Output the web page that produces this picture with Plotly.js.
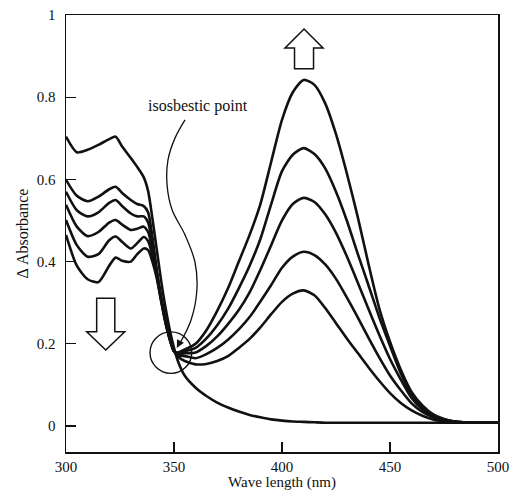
<!DOCTYPE html>
<html>
<head>
<meta charset="utf-8">
<script src="https://cdn.plot.ly/plotly-3.0.1.min.js"></script>
<style>html,body{margin:0;padding:0;background:#fff;}#chart{width:513px;height:491px;}</style>
</head>
<body>
<div id="chart"></div>
<script>
// Wavelength (nm)
const wavelength = [300,305,310,315,320,323,326,330,333,336,338,340,342,344,346,348,350,352,355,360,365,370,375,380,385,390,395,400,405,410,415,420,425,430,435,440,445,450,455,460,465,470,475,480,490,500];

// Initial spectrum (no 410 nm band)
const spectrum0 = [0.704,0.666,0.672,0.684,0.698,0.704,0.680,0.652,0.630,0.605,0.572,0.505,
  0.430,0.355,0.290,0.235,0.190,0.155,
  0.122,0.093,0.073,0.057,0.045,0.035,0.027,0.021,0.016,0.013,0.011,0.010,0.009,0.008,0.008,0.008,0.008,0.008,0.008,0.008,0.008,0.008,0.008,0.008,0.008,0.008,
  0.008,0.008];

const spectrum1 = [0.599,0.560,0.547,0.558,0.576,0.582,0.567,0.550,0.540,0.535,0.520,0.460,
  0.380,0.315,0.260,0.215,0.182,0.168,
  0.158,0.150,0.151,0.158,0.170,0.190,0.212,0.240,0.272,0.302,0.322,0.330,0.318,0.287,0.250,0.213,0.178,0.143,0.110,0.080,0.056,0.038,0.025,0.016,0.011,0.009,
  0.008,0.008];

const spectrum2 = [0.570,0.525,0.510,0.520,0.543,0.550,0.535,0.517,0.510,0.510,0.495,0.445,
  0.375,0.312,0.258,0.214,0.182,0.172,
  0.170,0.165,0.175,0.190,0.210,0.235,0.265,0.303,0.343,0.385,0.412,0.424,0.416,0.393,0.358,0.313,0.265,0.215,0.167,0.123,0.087,0.055,0.034,0.021,0.013,0.010,
  0.008,0.008];

const spectrum3 = [0.538,0.485,0.462,0.472,0.495,0.501,0.490,0.477,0.480,0.485,0.472,0.430,
  0.370,0.310,0.256,0.213,0.182,0.175,
  0.177,0.179,0.195,0.218,0.248,0.282,0.325,0.380,0.440,0.500,0.540,0.555,0.545,0.515,0.470,0.413,0.350,0.285,0.222,0.163,0.113,0.068,0.040,0.024,0.015,0.010,
  0.008,0.008];

const spectrum4 = [0.501,0.440,0.412,0.418,0.452,0.461,0.448,0.432,0.445,0.460,0.450,0.415,
  0.365,0.307,0.254,0.212,0.182,0.177,
  0.182,0.190,0.213,0.245,0.285,0.335,0.390,0.455,0.540,0.620,0.660,0.676,0.662,0.627,0.570,0.500,0.420,0.343,0.265,0.195,0.128,0.077,0.045,0.026,0.016,0.011,
  0.008,0.008];

const spectrum5 = [0.465,0.390,0.357,0.350,0.390,0.410,0.402,0.400,0.418,0.432,0.428,0.400,
  0.360,0.305,0.252,0.211,0.182,0.179,
  0.186,0.200,0.233,0.280,0.335,0.400,0.465,0.540,0.643,0.745,0.812,0.842,0.830,0.785,0.710,0.615,0.510,0.395,0.287,0.205,0.137,0.083,0.050,0.028,0.017,0.011,
  0.008,0.008];

const spectra = [spectrum0, spectrum1, spectrum2, spectrum3, spectrum4, spectrum5];

// Leader line from the "isosbestic point" label to the circle
const leaderX = [355.1,350.5,347.2,346.8,349.1,355.1,359.7,360.6,357.9,352.8];
const leaderY = [0.745,0.701,0.647,0.586,0.526,0.465,0.399,0.331,0.258,0.202];

const yTicks = [0,0.2,0.4,0.6,0.8,1];
const yTickText = ['0','0.2','0.4','0.6','0.8','1'];
const xTicks = [300,350,400,450,500];

const traces = spectra.map(s => ({
  x: wavelength, y: s, type: 'scatter', mode: 'lines',
  line: {color: '#111', width: 2.6, shape: 'spline', smoothing: 0.7},
  hoverinfo: 'skip', showlegend: false
}));
traces.push({
  x: leaderX, y: leaderY, type: 'scatter', mode: 'lines',
  line: {color: '#111', width: 1.3, shape: 'spline', smoothing: 1},
  hoverinfo: 'skip', showlegend: false
});

const serif = 'Liberation Serif, Times New Roman, serif';

const layout = {
  width: 513, height: 491,
  margin: {l: 66, r: 15, t: 15, b: 39},
  paper_bgcolor: '#fff', plot_bgcolor: '#fff',
  font: {family: serif, color: '#111', size: 15},
  xaxis: {
    range: [300, 500], tickvals: xTicks, ticks: 'inside', ticklen: 10, tickwidth: 1.3,
    tickcolor: '#111', showline: true, linecolor: '#111', linewidth: 1.5, mirror: true,
    showgrid: false, zeroline: false, tickfont: {size: 15, family: serif},
    title: {text: 'Wave length (nm)', font: {size: 15, family: serif}, standoff: 6}
  },
  yaxis: {
    range: [-0.0633, 1.0], tickvals: yTicks, ticktext: yTickText, ticks: 'inside', ticklen: 10, tickwidth: 1.3,
    tickcolor: '#111', showline: true, linecolor: '#111', linewidth: 1.5, mirror: true,
    showgrid: false, zeroline: false, tickfont: {size: 15, family: serif},
    ticklabelstandoff: 6,
    title: {text: '\u0394 Absorbance', font: {size: 16, family: serif}, standoff: 4}
  },
  shapes: [
    {type: 'circle', xref: 'x', yref: 'y', x0: 338.9, x1: 358.2, y0: 0.128, y1: 0.229,
     line: {color: '#111', width: 1.4}},
    {type: 'path', xref: 'x', yref: 'y',
     path: 'M 314.2,0.311 L 322.6,0.311 L 322.6,0.229 L 327.2,0.229 L 318.4,0.185 L 309.6,0.229 L 314.2,0.229 Z',
     line: {color: '#111', width: 1.5}, fillcolor: 'rgba(0,0,0,0)'},
    {type: 'path', xref: 'x', yref: 'y',
     path: 'M 405.8,0.869 L 414.6,0.869 L 414.6,0.920 L 419.0,0.920 L 410.2,0.966 L 401.4,0.920 L 405.8,0.920 Z',
     line: {color: '#111', width: 1.5}, fillcolor: 'rgba(0,0,0,0)'}
  ],
  annotations: [
    {x: 361.1, y: 0.778, xref: 'x', yref: 'y', text: 'isosbestic point', showarrow: false,
     font: {size: 16, family: serif, color: '#111'}},
    {x: 351.3, y: 0.19, ax: 352.8, ay: 0.205, xref: 'x', yref: 'y', axref: 'x', ayref: 'y',
     text: '', showarrow: true, arrowhead: 2, arrowsize: 1.2, arrowwidth: 1.3, arrowcolor: '#111'}
  ]
};

Plotly.newPlot('chart', traces, layout, {staticPlot: true, displayModeBar: false});
</script>
</body>
</html>
